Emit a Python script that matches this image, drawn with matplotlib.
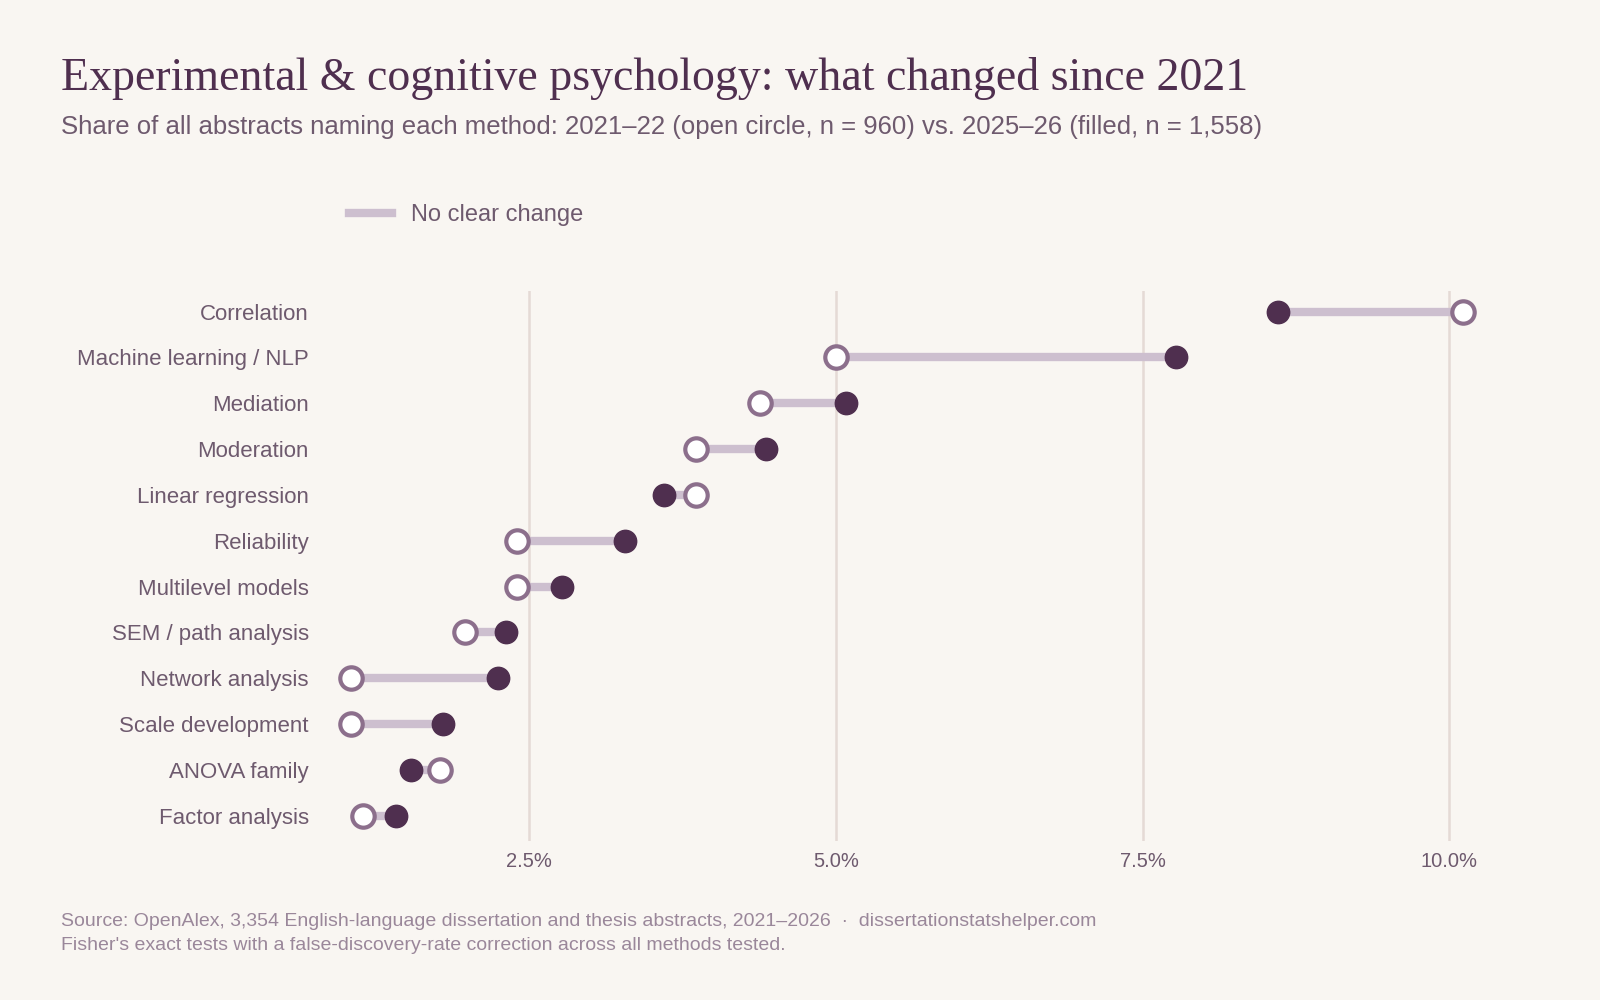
import matplotlib
matplotlib.use("Agg")
import matplotlib.pyplot as plt
from matplotlib.lines import Line2D

plt.rcParams['font.family'] = ['Liberation Sans', 'DejaVu Sans']

methods = ["Correlation", "Machine learning / NLP", "Mediation", "Moderation",
           "Linear regression", "Reliability", "Multilevel models", "SEM / path analysis",
           "Network analysis", "Scale development", "ANOVA family", "Factor analysis"]
share_2021 = [10.11, 5.00, 4.38, 3.86, 3.86, 2.40, 2.40, 1.98, 1.05, 1.05, 1.78, 1.15]
share_2025 = [8.60, 7.77, 5.08, 4.43, 3.60, 3.28, 2.77, 2.31, 2.25, 1.80, 1.54, 1.42]
xticks = [2.5, 5.0, 7.5, 10.0]
xticklabels = ["2.5%", "5.0%", "7.5%", "10.0%"]

bg = "#f9f6f2"
dark = "#4f2f4f"
openc = "#8c6f8c"
linec = "#cdbfcf"
textc = "#6e5a6e"

fig = plt.figure(figsize=(16, 10), dpi=100, facecolor=bg)
ax = fig.add_axes([0.207, 0.159, 0.725, 0.55], facecolor=bg)
n = len(methods)
ys = list(range(n))[::-1]
for y, a, b in zip(ys, share_2021, share_2025):
    ax.plot([a, b], [y, y], color=linec, lw=6, solid_capstyle="butt", zorder=2)
ax.scatter(share_2021, ys, s=260, facecolor="white", edgecolor=openc, linewidth=3, zorder=3)
ax.scatter(share_2025, ys, s=260, color=dark, zorder=4)
ax.set_xlim(0.89, 10.34)
ax.set_ylim(-0.55, n - 0.55)
ax.set_xticks(xticks)
ax.set_xticklabels(xticklabels, fontsize=14.5, color=textc)
ax.set_yticks(ys)
ax.set_yticklabels(methods, fontsize=16, color=textc)
ax.tick_params(length=0, pad=16)
ax.tick_params(axis="x", pad=8)
for s in ax.spines.values():
    s.set_visible(False)
for t in xticks:
    ax.axvline(t, color="#e5dad5", lw=1.8, zorder=1)

fig.text(0.038, 0.921, "Experimental & cognitive psychology: what changed since 2021",
         family=["Liberation Serif", "DejaVu Serif"], fontsize=33, color=dark, va="center")
fig.text(0.038, 0.873, "Share of all abstracts naming each method: 2021–22 (open circle, n = 960) vs. 2025–26 (filled, n = 1,558)",
         fontsize=18.5, color=textc, va="center")
fig.legend(handles=[Line2D([0], [0], color=linec, lw=6, label="No clear change")],
           loc="center left", bbox_to_anchor=(0.205, 0.785), frameon=False,
           fontsize=17, labelcolor=textc, handlelength=1.8)
fig.text(0.038, 0.079, "Source: OpenAlex, 3,354 English-language dissertation and thesis abstracts, 2021–2026  ·  dissertationstatshelper.com",
         fontsize=14, color="#9a879a", va="center")
fig.text(0.038, 0.055, "Fisher's exact tests with a false-discovery-rate correction across all methods tested.",
         fontsize=14, color="#9a879a", va="center")
fig.savefig("out.png", facecolor=bg)
